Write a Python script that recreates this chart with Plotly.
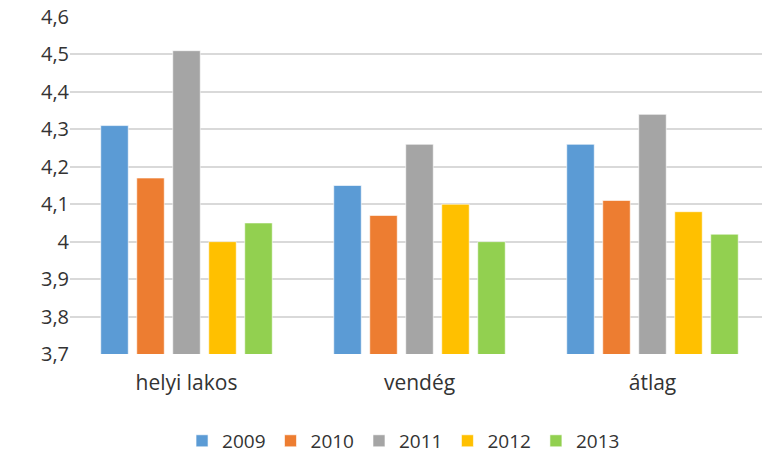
import plotly.graph_objects as go

categories = ["helyi lakos", "vendég", "átlag"]
years = ["2009", "2010", "2011", "2012", "2013"]
values_2009 = [4.31, 4.15, 4.26]
values_2010 = [4.17, 4.07, 4.11]
values_2011 = [4.51, 4.26, 4.34]
values_2012 = [4.00, 4.10, 4.08]
values_2013 = [4.05, 4.00, 4.02]
series = [values_2009, values_2010, values_2011, values_2012, values_2013]
colors = ["#5B9BD5", "#ED7D31", "#A5A5A5", "#FFC000", "#92D050"]

font_family = "Open Sans, Noto Sans, Liberation Sans, sans-serif"
text_color = "#333333"

fig = go.Figure()
for year, vals, col in zip(years, series, colors):
    fig.add_trace(go.Bar(
        name=year, x=categories, y=vals,
        marker=dict(color=col, line=dict(color="rgba(255,255,255,0.6)", width=1)),
    ))

fig.update_layout(
    width=762, height=456,
    margin=dict(l=70, r=0, t=17, b=102, autoexpand=False),
    paper_bgcolor="white", plot_bgcolor="white",
    barmode="group", bargap=0.2275, bargroupgap=0.236,
    separators=",.",
    font=dict(family=font_family, size=20, color=text_color),
    showlegend=True,
    legend=dict(orientation="h", x=0.482, xanchor="center",
                y=-0.258, yanchor="middle", bgcolor="rgba(0,0,0,0)",
                font=dict(size=19, color=text_color), traceorder="normal"),
    xaxis=dict(showgrid=False, showline=False, ticks="", automargin=False,
               range=[-0.5, 2.47],
               tickfont=dict(size=21, color=text_color), ticklabelstandoff=14),
    yaxis=dict(range=[3.7, 4.6], dtick=0.1, tick0=3.7, showgrid=True,
               gridcolor="#D9D9D9", gridwidth=1.5, zeroline=False, showline=False,
               ticks="", automargin=False,
               tickfont=dict(size=20, color=text_color), ticklabelstandoff=0),
)

fig.write_html("out.html")
